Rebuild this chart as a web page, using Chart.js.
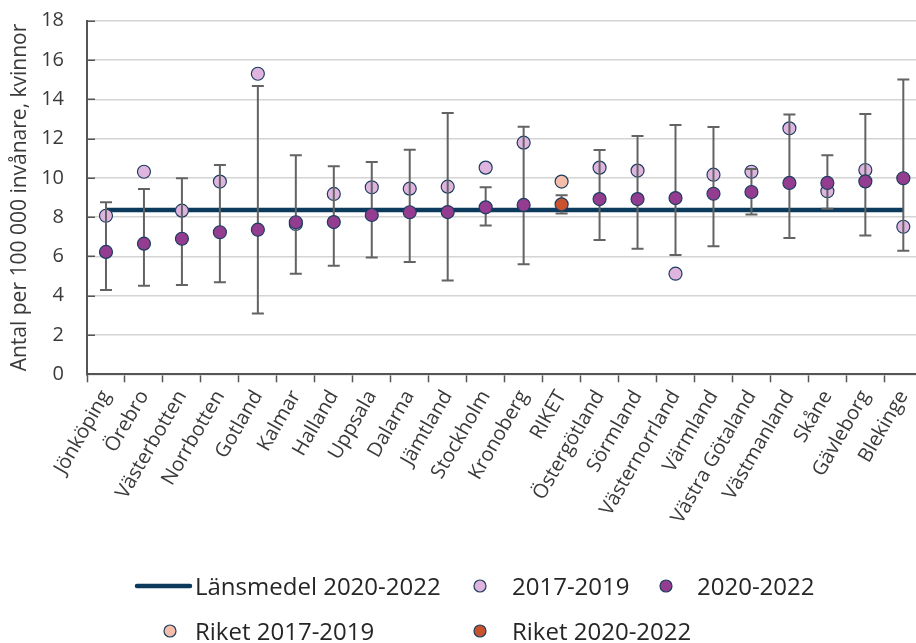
<!DOCTYPE html>
<html lang="sv">
<head>
<meta charset="utf-8">
<title>Antal per 100 000 invånare, kvinnor</title>
<script src="https://cdn.jsdelivr.net/npm/chart.js@4.4.1/dist/chart.umd.min.js"></script>
<style>
  html, body { margin: 0; padding: 0; background: #ffffff; overflow: hidden; }
  /* the plot runs slightly past the right edge of the page */
  #wrap { position: relative; width: 930px; height: 643px; }
</style>
</head>
<body>
<div id="wrap"><canvas id="chart"></canvas></div>
<script>
// Län, sorted by the 2020-2022 rate; RIKET is the national value
const regions = ['Jönköping', 'Örebro', 'Västerbotten', 'Norrbotten', 'Gotland', 'Kalmar', 'Halland',
  'Uppsala', 'Dalarna', 'Jämtland', 'Stockholm', 'Kronoberg', 'RIKET', 'Östergötland', 'Sörmland',
  'Västernorrland', 'Värmland', 'Västra Götaland', 'Västmanland', 'Skåne', 'Gävleborg', 'Blekinge'];

// Rate per 100 000 women, 2017-2019 (RIKET kept in its own series)
const rate2017 = [8.07, 10.31, 8.33, 9.81, 15.30, 7.65, 9.18, 9.52, 9.45, 9.55, 10.52, 11.79, null,
  10.52, 10.37, 5.12, 10.16, 10.31, 12.52, 9.32, 10.40, 7.51];
// Rate per 100 000 women, 2020-2022
const rate2020 = [6.23, 6.65, 6.90, 7.23, 7.36, 7.74, 7.75, 8.11, 8.25, 8.26, 8.50, 8.62, null,
  8.92, 8.92, 8.97, 9.19, 9.28, 9.74, 9.74, 9.82, 9.98];
// National values
const riket2017 = 9.81;
const riket2020 = 8.65;
// Confidence interval for 2020-2022
const ciLow = [4.29, 4.51, 4.55, 4.68, 3.10, 5.12, 5.53, 5.94, 5.72, 4.77, 7.57, 5.60, 8.18,
  6.84, 6.39, 6.07, 6.52, 8.13, 6.94, 8.43, 7.07, 6.29];
const ciHigh = [8.76, 9.43, 9.98, 10.65, 14.68, 11.15, 10.59, 10.81, 11.43, 13.30, 9.52, 12.60, 9.11,
  11.42, 12.13, 12.69, 12.59, 10.45, 13.23, 11.15, 13.25, 15.01];
// County mean 2020-2022
const lansmedel = 8.36;
// Y axis
const yTicks = { min: 0, max: 18, step: 2 };
const yTitle = 'Antal per 100 000 invånare, kvinnor';

const FONT = '"Open Sans", "Noto Sans", "DejaVu Sans", sans-serif';
const TEXT = '#3a3a3a';
const AXIS = '#555555';
const DOT_EDGE = '#1d3d5e';

const riketOnly = v => regions.map(r => (r === 'RIKET' ? v : null));

// Vertical interval bars with caps, drawn just above the 2017-2019 dots
const errorBars = {
  id: 'errorBars',
  afterDatasetDraw(chart, args) {
    if (chart.data.datasets[args.index].label !== '2017-2019') return;
    const { ctx } = chart;
    const xs = chart.scales.x, ys = chart.scales.y;
    ctx.save();
    ctx.strokeStyle = '#636363';
    ctx.lineWidth = 2;
    regions.forEach((r, i) => {
      const px = xs.getPixelForValue(i);
      const lo = ys.getPixelForValue(ciLow[i]);
      const hi = ys.getPixelForValue(ciHigh[i]);
      ctx.beginPath();
      ctx.moveTo(px, lo); ctx.lineTo(px, hi);
      ctx.moveTo(px - 6, lo); ctx.lineTo(px + 6, lo);
      ctx.moveTo(px - 6, hi); ctx.lineTo(px + 6, hi);
      ctx.stroke();
    });
    ctx.restore();
  }
};

// Short tick marks pointing into the plot from the y axis
const innerTicks = {
  id: 'innerTicks',
  afterDraw(chart) {
    const { ctx, chartArea } = chart;
    const ys = chart.scales.y;
    ctx.save();
    ctx.strokeStyle = AXIS;
    ctx.lineWidth = 1.5;
    ys.ticks.forEach(t => {
      const py = Math.round(ys.getPixelForValue(t.value)) + 0.25;
      ctx.beginPath();
      ctx.moveTo(chartArea.left, py);
      ctx.lineTo(chartArea.left + 8, py);
      ctx.stroke();
    });
    ctx.restore();
  }
};

// Two-row legend with aligned columns
const legendRows = [
  ['Länsmedel 2020-2022', '2017-2019', '2020-2022'],
  ['Riket 2017-2019', 'Riket 2020-2022']
];
const columnText = [195, 512, 697];
const columnMark = [170, 480, 666];
const rowBaseline = [595, 640];

const gridLegend = {
  id: 'gridLegend',
  afterDraw(chart) {
    const { ctx } = chart;
    ctx.save();
    ctx.font = '24px ' + FONT;
    ctx.textBaseline = 'alphabetic';
    ctx.textAlign = 'left';
    legendRows.forEach((row, r) => {
      const base = rowBaseline[r];
      const mid = base - 9;
      row.forEach((label, c) => {
        const ds = chart.data.datasets.find(d => d.label === label);
        if (ds.showLine === false) {
          ctx.beginPath();
          ctx.arc(columnMark[c], mid, 6, 0, Math.PI * 2);
          ctx.fillStyle = ds.pointBackgroundColor;
          ctx.fill();
          ctx.lineWidth = 1.2;
          ctx.strokeStyle = DOT_EDGE;
          ctx.stroke();
        } else {
          ctx.beginPath();
          ctx.moveTo(columnText[c] - 58, mid);
          ctx.lineTo(columnText[c] - 5, mid);
          ctx.lineWidth = 4.5;
          ctx.lineCap = 'round';
          ctx.strokeStyle = ds.borderColor;
          ctx.stroke();
        }
        ctx.fillStyle = '#262626';
        ctx.fillText(label, columnText[c], base);
      });
    });
    ctx.restore();
  }
};

const dotStyle = (color, order) => ({
  showLine: false,
  pointRadius: 6.5,
  pointHoverRadius: 6.5,
  pointBackgroundColor: color,
  pointBorderColor: DOT_EDGE,
  pointBorderWidth: 1.2,
  borderColor: color,
  order
});

new Chart(document.getElementById('chart'), {
  type: 'line',
  data: {
    labels: regions,
    datasets: [
      { label: '2020-2022', data: rate2020, ...dotStyle('#943d90', 1) },
      { label: 'Riket 2020-2022', data: riketOnly(riket2020), ...dotStyle('#c9522f', 1) },
      { label: '2017-2019', data: rate2017, ...dotStyle('#dfb5df', 3) },
      { label: 'Riket 2017-2019', data: riketOnly(riket2017), ...dotStyle('#f3bda9', 3) },
      {
        label: 'Länsmedel 2020-2022',
        data: regions.map(() => lansmedel),
        borderColor: '#0b3a5c',
        borderWidth: 4.5,
        pointRadius: 0,
        pointHoverRadius: 0,
        order: 5
      }
    ]
  },
  options: {
    responsive: true,
    maintainAspectRatio: false,
    animation: false,
    events: [],
    layout: { padding: { top: 20.7, right: 0, left: 0, bottom: 0 } },
    plugins: { legend: { display: false }, tooltip: { enabled: false } },
    scales: {
      x: {
        type: 'category',
        offset: true,
        grid: {
          offset: true,
          drawOnChartArea: false,
          drawTicks: true,
          tickLength: 8,
          tickColor: AXIS,
          tickWidth: 1.5
        },
        border: { color: AXIS, width: 2 },
        ticks: {
          autoSkip: false,
          minRotation: 60,
          maxRotation: 60,
          padding: 4,
          color: TEXT,
          font: { family: FONT, size: 20 }
        },
        afterFit(scale) { scale.height = 643 - 374.3; }
      },
      y: {
        min: yTicks.min,
        max: yTicks.max,
        ticks: {
          stepSize: yTicks.step,
          padding: 0,
          color: TEXT,
          font: { family: FONT, size: 20 }
        },
        grid: {
          color: '#d4d4d4',
          lineWidth: 1.5,
          tickLength: 23,
          tickColor: 'rgba(0,0,0,0)'
        },
        border: { color: AXIS, width: 2 },
        title: {
          display: true,
          text: yTitle,
          color: TEXT,
          font: { family: FONT, size: 21 },
          padding: { top: 7.5, bottom: 0 }
        },
        afterFit(scale) { scale.width = 87; }
      }
    }
  },
  plugins: [errorBars, innerTicks, gridLegend]
});
</script>
</body>
</html>
